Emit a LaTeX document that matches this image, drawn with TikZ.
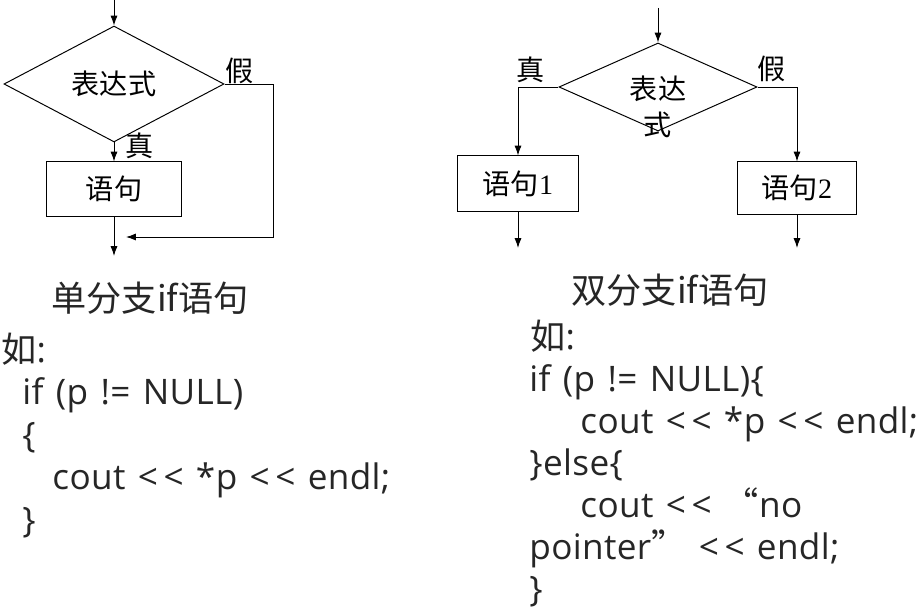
\documentclass[tikz,border=0pt]{standalone}
\usepackage{fontspec}
\setmainfont{Open Sans}[LetterSpace=1, WordSpace=1.3]
\newfontfamily\cjk{Noto Sans CJK SC}
\newfontfamily\numfont{Liberation Serif}
\usepackage{tikz}
\usetikzlibrary{arrows.meta,shapes.geometric}

\begin{document}
\begin{tikzpicture}[x=0.025cm, y=-0.025cm, line width=0.7pt,
  arr/.style={-{Latex[length=7pt,width=5pt]}},
  cond/.style={shape=diamond, draw, inner sep=1pt, font=\cjk\fontsize{20}{24}\selectfont},
  stmtbox/.style={draw, inner sep=1pt, font=\cjk\fontsize{20}{24}\selectfont},
  branchlabel/.style={font=\cjk\fontsize{20}{24}\selectfont, inner sep=0},
  title/.style={font=\cjk\fontsize{25}{30}\selectfont, text=black!85, anchor=base, inner sep=0},
  code/.style={font=\fontsize{25}{30}\selectfont, text=black!85, anchor=base west, inner sep=0}]
\useasboundingbox (0,0) rectangle (923,609);
%single branch
\coordinate (l-in) at (114,0);
\node[cond, minimum width=5.5cm, minimum height=2.2cm] (l-cond) at (114,84) {表达式};
\node[stmtbox, minimum width=3.35cm, minimum height=1.35cm] (l-stmt) at (114,189) {语句};
\coordinate (l-join) at (126,237);
\coordinate (l-out) at (114,256);
\node[branchlabel] (l-true) at (140,146) {真};
\node[branchlabel] (l-false) at (240,71) {假};
\draw [arr] (l-in) -- (l-cond);
\draw [arr] (l-cond) -- (l-stmt);
\draw [arr] (l-cond.east) -- ++(49,0) |- (l-join);
\draw [arr] (l-stmt) -- (l-out);
%double branch
\coordinate (r-in) at (658,8);
\node[cond, minimum width=4.95cm, minimum height=2.2cm] (r-cond) at (658,87) {};
\node[branchlabel, align=center, font=\cjk\fontsize{20}{26}\selectfont] (r-expr) at (658,107) {表达\\式};
\node[stmtbox, minimum width=3cm, minimum height=1.375cm] (r-stmt1) at (518,183.5) {语句{\numfont 1}};
\node[stmtbox, minimum width=2.95cm, minimum height=1.3cm] (r-stmt2) at (797,188) {语句{\numfont 2}};
\coordinate (r-out1) at (518,248);
\coordinate (r-out2) at (797,248);
\node[branchlabel] (r-true) at (531,70) {真};
\node[branchlabel] (r-false) at (772,69) {假};
\draw [arr] (r-in) -- (r-cond);
\draw [arr] (r-cond.west) -| (r-stmt1);
\draw [arr] (r-cond.east) -| (r-stmt2);
\draw [arr] (r-stmt1) -- (r-out1);
\draw [arr] (r-stmt2) -- (r-out2);
%titles and code
\node[title] (l-title) at (150,312) {单分支if语句};
\node[title] (r-title) at (670,304) {双分支if语句};
\node[code] (l1) at (1,363) {{\cjk 如}:};
\node[code] (l2) at (22,405) {if (p != NULL)};
\node[code] (l3) at (22,448) {\{};
\node[code] (l4) at (52,490) {cout <\kern4pt< *p <\kern4pt< endl;};
\node[code] (l5) at (22,533) {\}};
\node[code] (r1) at (530,350) {{\cjk 如}:};
\node[code] (r2) at (529,392) {if (p != NULL)\{};
\node[code] (r3) at (580,434) {cout <\kern4pt< *p <\kern4pt< endl;};
\node[code] (r4) at (529,476) {\}else\{};
\node[code] (r5) at (580,518) {cout <\kern4pt< {\cjk “}no};
\node[code] (r6) at (529,560) {pointer{\cjk ”} <\kern4pt< endl;};
\node[code] (r7) at (529,602) {\}};
\end{tikzpicture}
\end{document}
